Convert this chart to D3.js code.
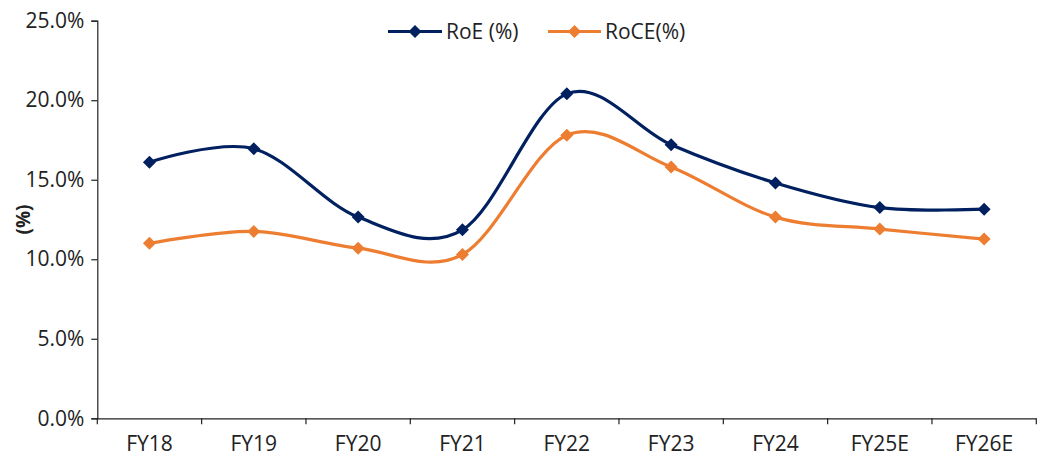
<!DOCTYPE html>
<html><head><meta charset="utf-8">
<script src="https://cdn.jsdelivr.net/npm/d3@7"></script>
<style>body{margin:0;background:#fff}svg{display:block}text{font-family:"Open Sans",sans-serif;fill:#222}</style>
</head><body><svg id="c" width="1051" height="460"></svg>
<script>
const categories = ["FY18","FY19","FY20","FY21","FY22","FY23","FY24","FY25E","FY26E"];
const roe  = [16.1, 16.95, 12.65, 11.85, 20.4, 17.2, 14.8, 13.25, 13.15];
const roce = [11.0, 11.75, 10.7, 10.3, 17.8, 15.8, 12.65, 11.9, 11.27];
const yTicks = [0,5,10,15,20,25];
const seriesNames = ["RoE (%)","RoCE(%)"];
const colors = ["#002060","#ED7D31"];

const svg = d3.select("#c");
const L=97.3, R=1036.3, T=20.7, B=418.3;
const FS = "21px";
const x = d3.scaleBand().domain(categories).range([L,R]);
const y = d3.scaleLinear().domain([0,25]).range([B,T]);

const yAxis = d3.axisLeft(y).tickValues(yTicks).tickFormat(d=>d.toFixed(1)+"%").tickSize(6).tickPadding(7);
const gy = svg.append("g").attr("transform",`translate(${L},0)`).call(yAxis);
const xAxis = d3.axisBottom(x).tickSize(0).tickPadding(18);
const gx = svg.append("g").attr("transform",`translate(0,${B})`).call(xAxis);
[gx,gy].forEach(g=>{g.selectAll("path,line").attr("stroke","#222").attr("stroke-width",1.2);
  g.selectAll("text").style("font-size",FS).attr("fill","#222").style("font-family","'Open Sans',sans-serif");});
gx.select(".domain").attr("d",`M${L},0.5H${R}`);
// category boundary ticks
svg.append("g").selectAll("line").data(d3.range(categories.length+1)).join("line")
  .attr("x1",i=>L+i*x.step()).attr("x2",i=>L+i*x.step()).attr("y1",B).attr("y2",B+6)
  .attr("stroke","#222").attr("stroke-width",1.2);

svg.append("text").attr("transform",`translate(30,${y(12.5)}) rotate(-90)`)
  .attr("text-anchor","middle").style("font-size","19px").style("font-weight","bold").text("(%)");

const line = d3.line().x((d,i)=>x(categories[i])+x.bandwidth()/2).y(d=>y(d)).curve(d3.curveCatmullRom.alpha(0));
const diamondPath = "M0,-6.5L6.5,0L0,6.5L-6.5,0Z";
[roe,roce].forEach((s,k)=>{
  svg.append("path").datum(s).attr("d",line).attr("fill","none").attr("stroke",colors[k]).attr("stroke-width",3.2);
  svg.append("g").selectAll("path").data(s).join("path")
    .attr("transform",(d,i)=>`translate(${x(categories[i])+x.bandwidth()/2},${y(d)})`)
    .attr("d",diamondPath).attr("fill",colors[k]);
});

// legend
const leg = [{x0:388,x1:442,tx:446},{x0:548,x1:601,tx:605}];
leg.forEach((p,k)=>{
  const g = svg.append("g");
  g.append("line").attr("x1",p.x0).attr("x2",p.x1).attr("y1",31.5).attr("y2",31.5).attr("stroke",colors[k]).attr("stroke-width",3.2);
  g.append("path").attr("transform",`translate(${(p.x0+p.x1)/2},31.5)`).attr("d",diamondPath).attr("fill",colors[k]);
  g.append("text").attr("x",p.tx).attr("y",31.5).attr("dy","0.35em").style("font-size",FS).text(seriesNames[k]);
});
</script></body></html>
